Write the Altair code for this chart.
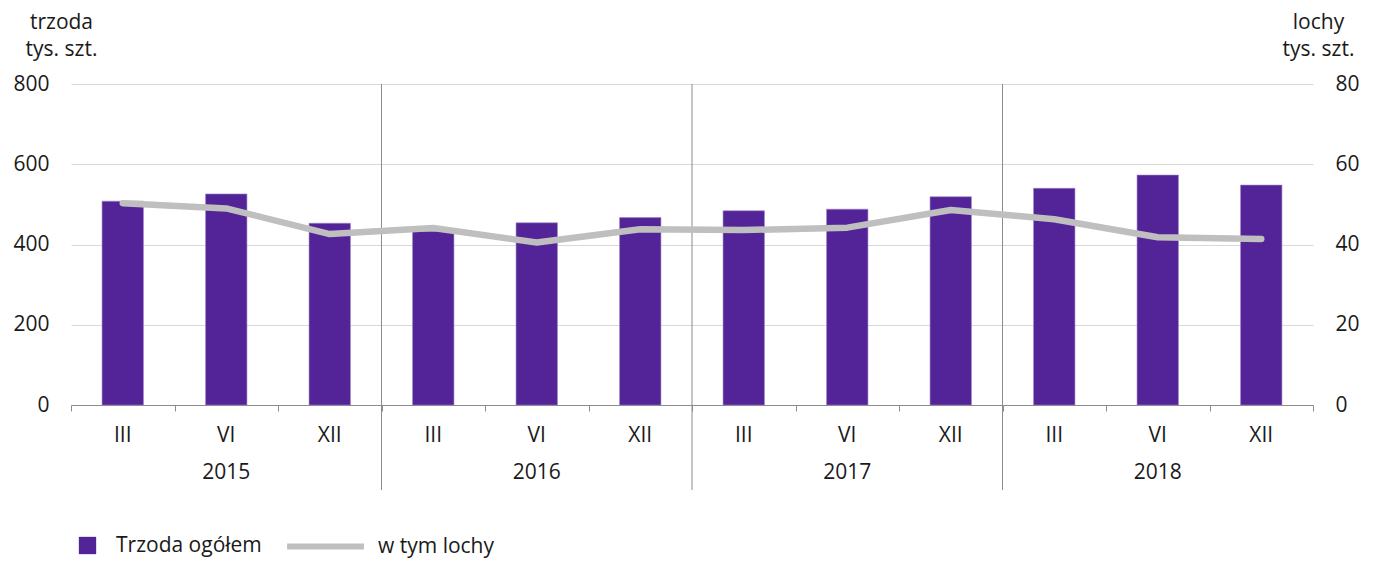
import altair as alt
import pandas as pd

months = ["III", "VI", "XII"] * 4
years = ["2015", "2016", "2017", "2018"]
trzoda = [508, 526, 453, 433, 454, 467, 484, 488, 519, 540, 573, 548]
lochy = [50.3, 49.0, 42.6, 44.1, 40.5, 43.8, 43.6, 44.2, 48.6, 46.3, 41.8, 41.4]
separators = [3, 6, 9]

FONT = "Open Sans"
FS = 21
W, H = 1242, 321

idx = list(range(12))
df = pd.DataFrame({
    "i": idx,
    "x0": [i + 0.3 for i in idx],
    "x1": [i + 0.7 for i in idx],
    "xc": [i + 0.5 for i in idx],
    "month": months,
    "trzoda": trzoda,
    "lochy": lochy,
    "s1": ["Trzoda ogółem"] * 12,
    "s2": ["w tym lochy"] * 12,
})
dfy = pd.DataFrame({"year": years, "xc": [1.5, 4.5, 7.5, 10.5]})
dfs = pd.DataFrame({"x": separators})

xs = alt.Scale(domain=[0, 12], nice=False, zero=False)

bars = alt.Chart(df).mark_bar(stroke="#9c85c6", strokeWidth=0.6).encode(
    x=alt.X("x0:Q", scale=xs, axis=alt.Axis(values=list(range(13)), labels=False, grid=False,
                                            tickSize=6, tickColor="#8c8c8c", domainColor="#8c8c8c",
                                            title=None)),
    x2="x1:Q",
    y=alt.Y("trzoda:Q", scale=alt.Scale(domain=[0, 800], nice=False),
            axis=alt.Axis(values=[0, 200, 400, 600, 800], grid=True, gridColor="#d9d9d9",
                          ticks=False, domain=False, labelPadding=22,
                          title=["trzoda", "tys. szt."], titleAngle=0, titleAlign="center",
                          titleBaseline="alphabetic", titleX=-10, titleY=-56,
                          titleFontWeight="normal", titleLineHeight=27)),
    y2=alt.datum(0),
    fill=alt.Fill("s1:N", scale=alt.Scale(domain=["Trzoda ogółem"], range=["#522497"]),
                  legend=alt.Legend(title=None, orient="none", legendX=6, legendY=451,
                                    symbolType="square", symbolSize=300, labelOffset=18,
                                    symbolStrokeWidth=0)),
)

seps = alt.Chart(dfs).mark_rule(color="#8c8c8c", strokeWidth=1).encode(
    x=alt.X("x:Q", scale=xs),
    y=alt.value(0),
    y2=alt.value(406),
)

mlabels = alt.Chart(df).mark_text(fontSize=FS, font=FONT, color="#1a1a1a", baseline="middle").encode(
    x=alt.X("xc:Q", scale=xs),
    y=alt.value(352),
    text="month:N",
)
ylabels = alt.Chart(dfy).mark_text(fontSize=FS, font=FONT, color="#1a1a1a", baseline="middle").encode(
    x=alt.X("xc:Q", scale=xs),
    y=alt.value(389),
    text="year:N",
)

line = alt.Chart(df).mark_line(strokeWidth=6.5, strokeCap="round", strokeJoin="round").encode(
    x=alt.X("xc:Q", scale=xs),
    y=alt.Y("lochy:Q", scale=alt.Scale(domain=[0, 80], nice=False),
            axis=alt.Axis(orient="right", values=[0, 20, 40, 60, 80], grid=False, ticks=False,
                          domain=False, labelPadding=22,
                          title=["lochy", "tys. szt."], titleAngle=0, titleAlign="center",
                          titleBaseline="alphabetic", titleX=5, titleY=-56,
                          titleFontWeight="normal", titleLineHeight=27)),
    stroke=alt.Stroke("s2:N", scale=alt.Scale(domain=["w tym lochy"], range=["#bfbfbf"]),
                      legend=alt.Legend(title=None, orient="none", legendX=213, legendY=421,
                                        symbolType="stroke", symbolSize=5900,
                                        symbolStrokeWidth=6, labelOffset=11)),
)

left = alt.layer(bars, seps, mlabels, ylabels)
chart = alt.layer(left, line).resolve_scale(y="independent").properties(
    width=W, height=H,
    autosize=alt.AutoSizeParams(type="none"),
    padding={"left": 63, "top": 76, "right": 56, "bottom": 156},
).configure_view(stroke=None).configure_axis(
    labelFont=FONT, labelFontSize=FS, labelColor="#1a1a1a",
    titleFont=FONT, titleFontSize=FS, titleColor="#1a1a1a",
).configure_legend(
    labelFont=FONT, labelFontSize=FS, labelColor="#1a1a1a",
)

chart.save("out.html", embed_options={"renderer": "svg", "actions": False})
